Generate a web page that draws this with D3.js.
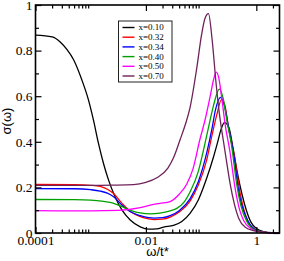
<!DOCTYPE html>
<html>
<head>
<meta charset="utf-8">
<script src="https://cdn.jsdelivr.net/npm/d3@7"></script>
<style>
  body { margin: 0; background: #fff; }
  svg { display: block; }
</style>
</head>
<body>
<div id="chart"></div>
<script>
// tick values and labels
const omegaTicks = [1e-4, 1e-2, 1];
const omegaTickLabels = ["0.0001", "0.01", "1"];
const sigmaTicks = [0, 0.2, 0.4, 0.6, 0.8, 1];
const sigmaTickLabels = ["0", "0.2", "0.4", "0.6", "0.8", "1"];

const seriesNames = ["x=0.10", "x=0.32", "x=0.34", "x=0.40", "x=0.50", "x=0.70"];

// omega / sigma pairs
const omega010 = [1e-4, 2e-4, 2.8e-4, 3.7e-4, 4.9e-4, 6.9e-4, 9.1e-4, 1.12e-3, 1.38e-3, 1.7e-3, 2.1e-3, 2.75e-3, 3.7e-3, 5.2e-3, 7.9e-3, 0.0112, 0.0158, 0.021, 0.0316, 0.0447, 0.063, 0.089, 0.126, 0.166, 0.195, 0.234, 0.265, 0.316, 0.38, 0.457, 0.55, 0.66, 0.79, 1, 1.41, 2.0, 2.63];
const sigma010 = [0.868, 0.86, 0.838, 0.805, 0.76, 0.672, 0.584, 0.496, 0.394, 0.306, 0.233, 0.16, 0.10, 0.057, 0.027, 0.017, 0.018, 0.026, 0.033, 0.05, 0.086, 0.145, 0.24, 0.33, 0.39, 0.46, 0.484, 0.465, 0.37, 0.26, 0.17, 0.10, 0.05, 0.02, 0.005, 0.001, 0];

const omega032 = [1e-4, 5e-4, 1e-3, 1.48e-3, 2e-3, 2.57e-3, 3.7e-3, 5.25e-3, 7.9e-3, 0.0112, 0.0141, 0.02, 0.0275, 0.04, 0.063, 0.089, 0.126, 0.158, 0.193, 0.234, 0.27, 0.31, 0.398, 0.513, 0.708, 1, 1.58, 2.63];
const sigma032 = [0.213, 0.212, 0.209, 0.204, 0.192, 0.174, 0.13, 0.094, 0.072, 0.062, 0.059, 0.061, 0.07, 0.092, 0.14, 0.21, 0.32, 0.43, 0.52, 0.585, 0.56, 0.47, 0.34, 0.17, 0.05, 0.012, 0.002, 0];

const omega034 = [1e-4, 5e-4, 1e-3, 1.48e-3, 2e-3, 2.57e-3, 3.7e-3, 5.25e-3, 7.9e-3, 0.0112, 0.0141, 0.02, 0.0275, 0.04, 0.063, 0.089, 0.126, 0.158, 0.182, 0.226, 0.263, 0.316, 0.38, 0.49, 0.708, 1, 1.58, 2.63];
const sigma034 = [0.195, 0.194, 0.19, 0.184, 0.175, 0.16, 0.122, 0.093, 0.076, 0.067, 0.065, 0.067, 0.076, 0.098, 0.15, 0.225, 0.35, 0.46, 0.54, 0.595, 0.56, 0.46, 0.36, 0.17, 0.052, 0.012, 0.002, 0];

const omega040 = [1e-4, 5e-4, 1e-3, 1.58e-3, 2.24e-3, 3.7e-3, 5.6e-3, 7.9e-3, 0.012, 0.0178, 0.0275, 0.0363, 0.05, 0.063, 0.089, 0.112, 0.141, 0.168, 0.214, 0.251, 0.295, 0.363, 0.437, 0.525, 0.676, 1, 1.58, 2.63];
const sigma040 = [0.147, 0.146, 0.144, 0.14, 0.134, 0.116, 0.097, 0.088, 0.084, 0.087, 0.097, 0.108, 0.138, 0.18, 0.27, 0.37, 0.48, 0.56, 0.631, 0.59, 0.49, 0.37, 0.22, 0.12, 0.05, 0.01, 0.002, 0];

const omega050 = [1e-4, 1e-3, 3.16e-3, 7.9e-3, 0.012, 0.0178, 0.0275, 0.04, 0.055, 0.071, 0.095, 0.119, 0.146, 0.168, 0.188, 0.209, 0.234, 0.275, 0.331, 0.417, 0.5, 0.589, 0.794, 1, 1.58, 2.63];
const sigma050 = [0.098, 0.097, 0.099, 0.111, 0.122, 0.13, 0.138, 0.17, 0.215, 0.28, 0.41, 0.50, 0.60, 0.672, 0.706, 0.68, 0.60, 0.47, 0.36, 0.19, 0.10, 0.055, 0.02, 0.008, 0.001, 0];

const omega070 = [1e-4, 1e-3, 2.5e-3, 6e-3, 0.01, 0.0158, 0.025, 0.0316, 0.0417, 0.0525, 0.063, 0.083, 0.102, 0.117, 0.136, 0.158, 0.186, 0.215, 0.251, 0.295, 0.339, 0.398, 0.479, 0.631, 0.891, 1.58, 2.63];
const sigma070 = [0.209, 0.209, 0.21, 0.212, 0.222, 0.242, 0.285, 0.33, 0.41, 0.48, 0.55, 0.72, 0.87, 0.94, 0.962, 0.85, 0.66, 0.52, 0.41, 0.30, 0.21, 0.13, 0.065, 0.025, 0.01, 0.002, 0];

const seriesColors = ["#000000", "#ff0000", "#0000ff", "#00a000", "#ff00ff", "#6e225a"];

function makeSeries() {
    const omegas = [omega010, omega032, omega034, omega040, omega050, omega070];
    const sigmas = [sigma010, sigma032, sigma034, sigma040, sigma050, sigma070];
    return seriesNames.map((name, i) => ({
        name: name,
        color: seriesColors[i],
        values: omegas[i].map((w, j) => ({ w: w, s: sigmas[i][j] }))
    }));
}

function renderChart() {
    const width = 284, height = 261;
    const left = 35.5, right = 279.5, top = 5, bottom = 233;
    const series = makeSeries();

    const svg = d3.select("#chart")
        .append("svg")
        .attr("width", width)
        .attr("height", height);

    svg.append("rect").attr("width", width).attr("height", height).attr("fill", "#fff");

    const x = d3.scaleLog()
        .domain([1e-4, 2.63])
        .range([left, right]);

    const y = d3.scaleLinear()
        .domain([0, 1])
        .range([bottom, top]);

    // minor ticks: 2..9 times each major tick
    const minorX = [];
    omegaTicks.forEach(m => {
        for (let k = 2; k <= 9; k++) {
            if (k * m <= x.domain()[1]) minorX.push(k * m);
        }
    });
    const minorY = d3.range(0.1, 1, 0.2);

    const serif = "'Liberation Serif', 'Times New Roman', serif";

    // curves
    const line = d3.line()
        .x(d => x(d.w))
        .y(d => y(d.s))
        .curve(d3.curveMonotoneX);

    svg.append("g")
        .selectAll("path")
        .data(series)
        .enter()
        .append("path")
        .attr("fill", "none")
        .attr("stroke", d => d.color)
        .attr("stroke-width", 1.3)
        .attr("d", d => line(d.values));

    // axes (ticks pointing inward)
    function styleAxis(g) {
        g.select(".domain").remove();
        g.selectAll("line").attr("stroke", "#000").attr("stroke-width", 1.2);
        g.selectAll("text").style("font-family", serif).style("font-size", "13.5px").attr("fill", "#000");
    }

    svg.append("g")
        .attr("transform", `translate(0,${bottom})`)
        .call(d3.axisBottom(x).tickValues(omegaTicks).tickFormat((d, i) => omegaTickLabels[i]).tickSize(-6).tickPadding(2))
        .call(styleAxis);
    svg.append("g")
        .attr("transform", `translate(0,${bottom})`)
        .call(d3.axisBottom(x).tickValues(minorX).tickFormat("").tickSize(-3.5))
        .call(styleAxis);
    svg.append("g")
        .attr("transform", `translate(0,${top})`)
        .call(d3.axisTop(x).tickValues(omegaTicks).tickFormat("").tickSize(-6))
        .call(styleAxis);
    svg.append("g")
        .attr("transform", `translate(0,${top})`)
        .call(d3.axisTop(x).tickValues(minorX).tickFormat("").tickSize(-3.5))
        .call(styleAxis);

    svg.append("g")
        .attr("transform", `translate(${left},0)`)
        .call(d3.axisLeft(y).tickValues(sigmaTicks).tickFormat((d, i) => sigmaTickLabels[i]).tickSize(-6).tickPadding(3))
        .call(styleAxis);
    svg.append("g")
        .attr("transform", `translate(${left},0)`)
        .call(d3.axisLeft(y).tickValues(minorY).tickFormat("").tickSize(-3.5))
        .call(styleAxis);
    svg.append("g")
        .attr("transform", `translate(${right},0)`)
        .call(d3.axisRight(y).tickValues(sigmaTicks).tickFormat("").tickSize(-6))
        .call(styleAxis);
    svg.append("g")
        .attr("transform", `translate(${right},0)`)
        .call(d3.axisRight(y).tickValues(minorY).tickFormat("").tickSize(-3.5))
        .call(styleAxis);

    // frame
    svg.append("rect")
        .attr("x", left)
        .attr("y", top)
        .attr("width", right - left)
        .attr("height", bottom - top)
        .attr("fill", "none")
        .attr("stroke", "#000")
        .attr("stroke-width", 1.6);

    // axis titles
    svg.append("text")
        .attr("x", (left + right) / 2)
        .attr("y", 256)
        .attr("text-anchor", "middle")
        .style("font-family", "'Liberation Sans', Arial, sans-serif")
        .style("font-size", "13px")
        .text("ω/t*");

    svg.append("text")
        .attr("transform", "translate(11,121) rotate(-90)")
        .attr("text-anchor", "middle")
        .style("font-family", "'Liberation Sans', Arial, sans-serif")
        .style("font-size", "13px")
        .text("σ(ω)");

    // legend
    const lg = svg.append("g").attr("transform", "translate(118.5,21)");
    lg.append("rect")
        .attr("width", 53.5)
        .attr("height", 61)
        .attr("fill", "#fff")
        .attr("stroke", "#222")
        .attr("stroke-width", 1);

    const item = lg.selectAll(".item")
        .data(series)
        .enter()
        .append("g")
        .attr("transform", (d, i) => `translate(0,${6.5 + i * 9.7})`);

    item.append("line")
        .attr("x1", 4)
        .attr("x2", 16)
        .attr("stroke", d => d.color)
        .attr("stroke-width", 1.4);

    item.append("text")
        .attr("x", 20)
        .attr("dy", "0.33em")
        .style("font-family", serif)
        .style("font-size", "9px")
        .text(d => d.name);
}

renderChart();
</script>
</body>
</html>
